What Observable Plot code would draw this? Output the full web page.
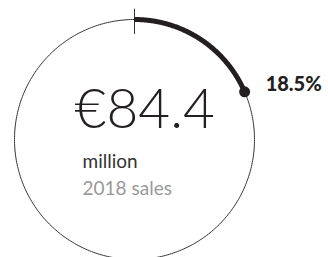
<!DOCTYPE html>
<html>
<head>
<meta charset="utf-8">
<script src="https://cdn.jsdelivr.net/npm/d3@7"></script>
<script src="https://cdn.jsdelivr.net/npm/@observablehq/plot@0.6"></script>
<style>
  html, body { margin: 0; padding: 0; background: #fff; }
</style>
</head>
<body>
<div id="chart"></div>
<script>
// Data
const share = [18.5];              // percent of total
const shareLabels = ["18.5%"];
const salesValue = ["€84.4"];
const salesUnit = ["million"];
const salesNote = ["2018 sales"];

const pct = share[0] / 100;
const toXY = (a) => ({x: Math.sin(a), y: Math.cos(a)});

const ring = d3.range(0, 361, 1).map(d => toXY(d * Math.PI / 180));
const arcPts = d3.range(0, 1.0001, 0.005).map(t => toXY(t * pct * 2 * Math.PI));
const endPt = [toXY(pct * 2 * Math.PI)];
const tick = [{x1: 0, y1: 0.88, x2: 0, y2: 1.09}];

const cx = 134, cy = 139, R = 120, W = 328, H = 257;

const chart = Plot.plot({
  width: W,
  height: H,
  margin: 0,
  x: {domain: [-cx / R, (W - cx) / R], range: [0, W], axis: null},
  y: {domain: [-(H - cy) / R, cy / R], range: [H, 0], axis: null},
  marks: [
    Plot.line(ring, {x: "x", y: "y", stroke: "#333", strokeWidth: 1}),
    Plot.link(tick, {x1: "x1", y1: "y1", x2: "x2", y2: "y2", stroke: "#333", strokeWidth: 1}),
    Plot.line(arcPts, {x: "x", y: "y", stroke: "#231f20", strokeWidth: 5, strokeLinecap: "butt"}),
    Plot.dot(endPt, {x: "x", y: "y", r: 5.5, fill: "#231f20", stroke: "none"}),
    Plot.text(endPt, {x: "x", y: "y", text: () => shareLabels[0], dx: 21, dy: -7, textAnchor: "start",
      fontFamily: "Lato", fontWeight: 900, fontSize: 20, fill: "#231f20"}),
    Plot.text([0], {x: -0.5, y: 0.092, text: () => salesValue[0], textAnchor: "start", lineAnchor: "bottom",
      fontFamily: "Lato", fontWeight: 300, fontSize: 55, fill: "#231f20"}),
    Plot.text([0], {x: -0.433, y: -0.24, text: () => salesUnit[0], textAnchor: "start", lineAnchor: "bottom",
      fontFamily: "Lato", fontWeight: 400, fontSize: 19, fill: "#333"}),
    Plot.text([0], {x: -0.433, y: -0.465, text: () => salesNote[0], textAnchor: "start", lineAnchor: "bottom",
      fontFamily: "Lato", fontWeight: 400, fontSize: 19, fill: "#999"})
  ]
});
document.getElementById("chart").appendChild(chart);
</script>
</body>
</html>
